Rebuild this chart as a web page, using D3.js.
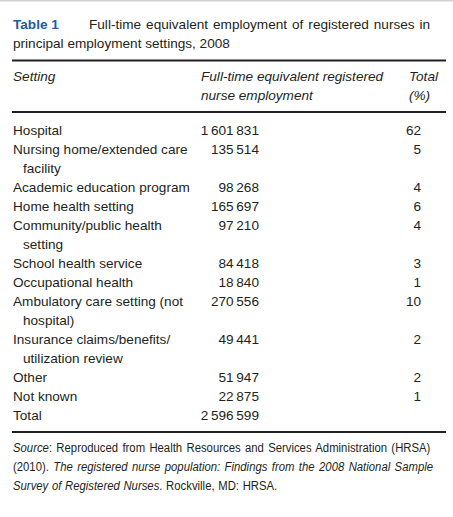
<!DOCTYPE html>
<html>
<head>
<meta charset="utf-8">
<script src="https://cdn.jsdelivr.net/npm/d3@7"></script>
<style>
  html, body { margin: 0; padding: 0; background: #fff; }
  svg { display: block; }
  text { font-family: "Liberation Sans", Arial, sans-serif; fill: #231f20; }
</style>
</head>
<body>
<div id="chart"></div>
<script>
// ---- data ----
const titleLabel = "Table 1";
const titleLines = ["Full-time equivalent employment of registered nurses in", "principal employment settings, 2008"];
const headerSetting = ["Setting"];
const headerFTE = ["Full-time equivalent registered", "nurse employment"];
const headerTotal = ["Total", "(%)"];
const settings = [
  ["Hospital"],
  ["Nursing home/extended care", "facility"],
  ["Academic education program"],
  ["Home health setting"],
  ["Community/public health", "setting"],
  ["School health service"],
  ["Occupational health"],
  ["Ambulatory care setting (not", "hospital)"],
  ["Insurance claims/benefits/", "utilization review"],
  ["Other"],
  ["Not known"],
  ["Total"]
];
const fteValues = [1601831, 135514, 98268, 165697, 97210, 84418, 18840, 270556, 49441, 51947, 22875, 2596599];
const percentValues = [62, 5, 4, 6, 4, 3, 1, 10, 2, 2, 1, null];
const sourceLines = [
  [["Source", true], [": Reproduced from Health Resources and Services Administration (HRSA)", false]],
  [["(2010). ", false], ["The registered nurse population: Findings from the 2008 National Sample", true]],
  [["Survey of Registered Nurses", true], [". Rockville, MD: HRSA.", false]]
];

// ---- layout ----
const W = 453, H = 517;
const FS = 13.6;
const svg = d3.select("#chart").append("svg").attr("width", W).attr("height", H);

const fmt = v => d3.format(",")(v).replace(/,/g, "\u2009");

// line index -> baseline y
const totalLines = d3.sum(settings, s => s.length);
const yRow = d3.scaleLinear().domain([0, totalLines - 1]).range([135, 420]);
const yHead = d3.scaleLinear().domain([0, 1]).range([81, 99.5]);
const yTitle = d3.scaleLinear().domain([0, 1]).range([29, 48]);
const ySrc = d3.scaleLinear().domain([0, 2]).range([452, 490]);

const colX = { setting: 13, indent: 23, fte: 259, fteHead: 201, pct: 421, pctHead: 409 };
const srcWordSpacing = [1.4, 1.5, 0.6];

// top grey border
svg.append("rect").attr("x", 0).attr("y", 0).attr("width", W).attr("height", 1.5).attr("fill", "#d0d0d0");

// title
svg.append("text").attr("x", colX.setting).attr("y", yTitle(0)).style("font-size", FS + "px")
  .style("font-weight", "bold").style("fill", "#1d5d9b").text(titleLabel);
svg.append("text").attr("x", 89).attr("y", yTitle(0)).style("font-size", FS + "px")
  .style("word-spacing", "1.2px").text(titleLines[0]);
svg.append("text").attr("x", colX.setting).attr("y", yTitle(1)).style("font-size", FS + "px").text(titleLines[1]);

// rules
const rules = [60.5, 112, 432];
svg.selectAll("line.rule").data(rules).enter().append("line")
  .attr("class", "rule").attr("x1", 12).attr("x2", 446)
  .attr("y1", d => d).attr("y2", d => d)
  .attr("stroke", "#231f20").attr("stroke-width", 2);

// header
const hdr = svg.append("g").style("font-style", "italic").style("font-size", FS + "px");
hdr.selectAll("text.hs").data(headerSetting).enter().append("text")
  .attr("x", colX.setting).attr("y", (d, i) => yHead(i)).text(d => d);
hdr.selectAll("text.hf").data(headerFTE).enter().append("text")
  .attr("x", colX.fteHead).attr("y", (d, i) => yHead(i)).text(d => d);
hdr.selectAll("text.ht").data(headerTotal).enter().append("text")
  .attr("x", colX.pctHead).attr("y", (d, i) => yHead(i)).text(d => d);

// body rows
let lineIdx = 0;
const rows = settings.map((s, i) => {
  const r = { lines: s, start: lineIdx, fte: fteValues[i], pct: percentValues[i] };
  lineIdx += s.length;
  return r;
});
const body = svg.append("g").style("font-size", FS + "px");
const rg = body.selectAll("g.row").data(rows).enter().append("g").attr("class", "row");
rg.selectAll("text.set").data(r => r.lines.map((l, j) => ({ l, j, y: yRow(r.start + j) }))).enter()
  .append("text").attr("x", d => d.j === 0 ? colX.setting : colX.indent).attr("y", d => d.y).text(d => d.l);
rg.append("text").attr("x", colX.fte).attr("y", r => yRow(r.start)).attr("text-anchor", "end").text(r => fmt(r.fte));
rg.filter(r => r.pct != null).append("text").attr("x", colX.pct).attr("y", r => yRow(r.start))
  .attr("text-anchor", "end").text(r => r.pct);

// source (condensed type)
const src = svg.append("g").style("font-size", "13.5px");
sourceLines.forEach((parts, i) => {
  const t = src.append("text").attr("x", 0).attr("y", 0)
    .attr("transform", `translate(${colX.setting},${ySrc(i)}) scale(0.84,1)`)
    .style("word-spacing", srcWordSpacing[i] + "px");
  parts.forEach(([txt, it]) => t.append("tspan").text(txt).style("font-style", it ? "italic" : "normal"));
});
</script>
</body>
</html>
